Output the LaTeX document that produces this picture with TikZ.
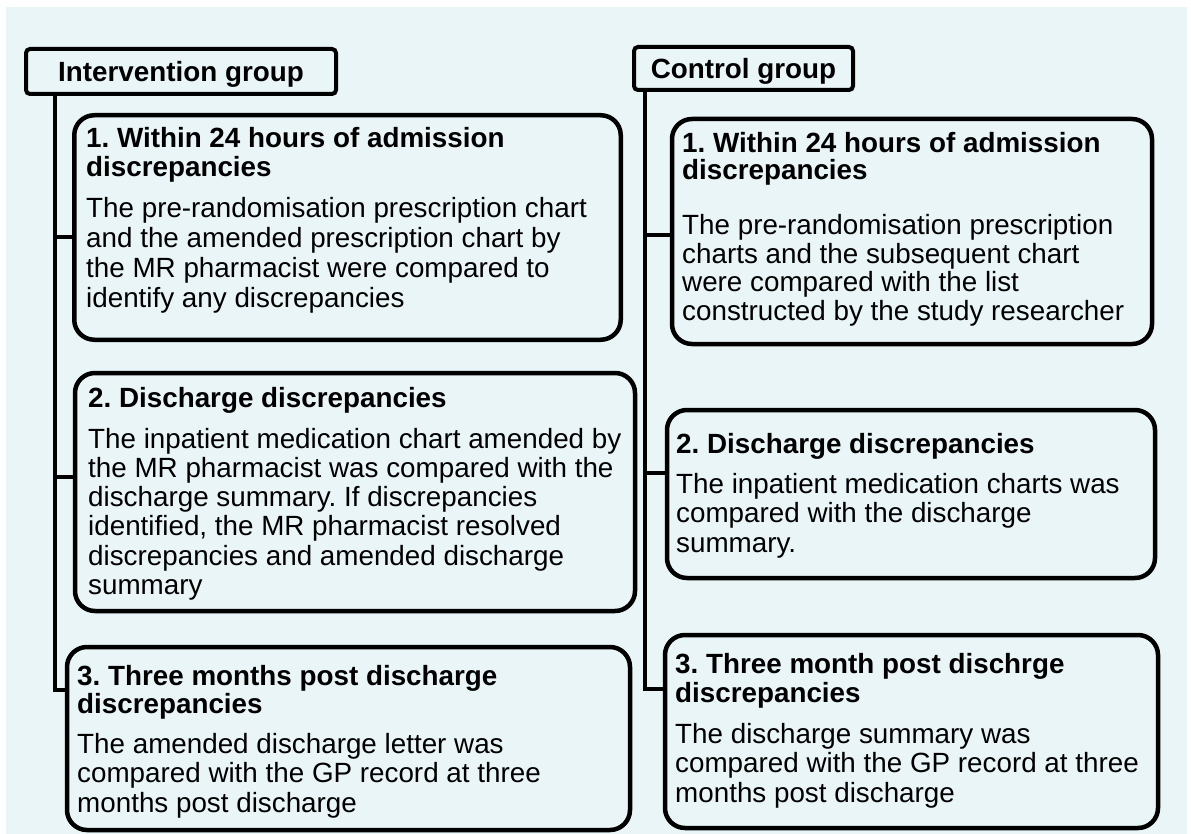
\documentclass[tikz,border=0pt]{standalone}
\usepackage{fontspec}
\setmainfont{Liberation Sans}
\usetikzlibrary{calc}
\definecolor{panel}{RGB}{234,245,248}
\frenchspacing

% title lines (bold), a gap, then the description lines
\newcommand\cardtext[5]{%
  {\bfseries\fontsize{27.8}{#1}\selectfont #4\par}%
  \vspace{#3pt}%
  {\fontsize{27.8}{#2}\selectfont #5\par}}

\tikzset{
  grp/.style={draw, line width=4pt, rounded corners=4pt, fill=panel, inner sep=0pt,
    font=\bfseries\fontsize{27.8}{30}\selectfont, text height=20pt, text depth=0pt},
  card/.style={draw, line width=4.5pt, rounded corners=20pt, fill=panel, inner sep=0pt},
  txt/.style={anchor=base west, inner sep=0pt, text width=600pt, align=flush left,
    font=\fontsize{27.8}{30}\selectfont},
  conn/.style={line width=4pt},
}

\begin{document}
\begin{tikzpicture}[x=1pt, y=-1pt]
  \useasboundingbox (0,0) rectangle (1191,834);
  \fill[panel] (6,7) rectangle (1187,834);

  % group headers
  \node[grp, minimum width=310, minimum height=45] (ig) at (181,71.5) {Intervention group};
  \node[grp, minimum width=219, minimum height=43] (cg) at (743.5,68.5) {Control group};

  % intervention cards
  \node[card, minimum width=546.5, minimum height=224.5] (ib1) at (347.5,227.5) {};
  \node[card, minimum width=560, minimum height=238] (ib2) at (355,492) {};
  \node[card, minimum width=563, minimum height=183] (ib3) at (348.5,738.5) {};

  % control cards
  \node[card, minimum width=480, minimum height=225] (cb1) at (912,231.5) {};
  \node[card, minimum width=488, minimum height=168] (cb2) at (911,494) {};
  \node[card, minimum width=493, minimum height=193] (cb3) at (911.5,731.5) {};

  % card texts
  \node[txt] (ib1t) at (86,148) {\cardtext{29}{30}{11}
    {1. Within 24 hours of admission\\discrepancies}
    {The pre-randomisation prescription chart\\and the amended prescription chart by\\the MR pharmacist were compared to\\identify any discrepancies}};
  \node[txt] (ib2t) at (88,407) {\cardtext{28}{29.3}{11.7}
    {2. Discharge discrepancies}
    {The inpatient medication chart amended by\\the MR pharmacist was compared with the\\discharge summary. If discrepancies\\identified, the MR pharmacist resolved\\discrepancies and amended discharge\\summary}};
  \node[txt] (ib3t) at (77,685) {\cardtext{28}{29.5}{10.5}
    {3. Three months post discharge\\discrepancies}
    {The amended discharge letter was\\compared with the GP record at three\\months post discharge}};
  \node[txt] (cb1t) at (682,153) {\cardtext{27}{28.5}{26.5}
    {1. Within 24 hours of admission\\discrepancies}
    {The pre-randomisation prescription\\charts and the subsequent chart\\were compared with the list\\constructed by the study researcher}};
  \node[txt] (cb2t) at (676,453) {\cardtext{28}{29.5}{10.5}
    {2. Discharge discrepancies}
    {The inpatient medication charts was\\compared with the discharge\\summary.}};
  \node[txt] (cb3t) at (675,673) {\cardtext{29}{29.5}{11.5}
    {3. Three month post dischrge\\discrepancies}
    {The discharge summary was\\compared with the GP record at three\\months post discharge}};

  % intervention tree
  \coordinate (l1) at (55,237);
  \coordinate (l2) at (55,477);
  \coordinate (l3) at (55,690);
  \draw[conn] (ig.south -| l1) -- (l3) -- (l3 -| ib3.west);
  \draw[conn] (l1) -- (l1 -| ib1.west);
  \draw[conn] (l2) -- (l2 -| ib2.west);

  % control tree
  \coordinate (r1) at (645,235);
  \coordinate (r2) at (645,473);
  \coordinate (r3) at (645,689);
  \draw[conn] (cg.south -| r1) -- (r3) -- (r3 -| cb3.west);
  \draw[conn] (r1) -- (r1 -| cb1.west);
  \draw[conn] (r2) -- (r2 -| cb2.west);
\end{tikzpicture}
\end{document}
